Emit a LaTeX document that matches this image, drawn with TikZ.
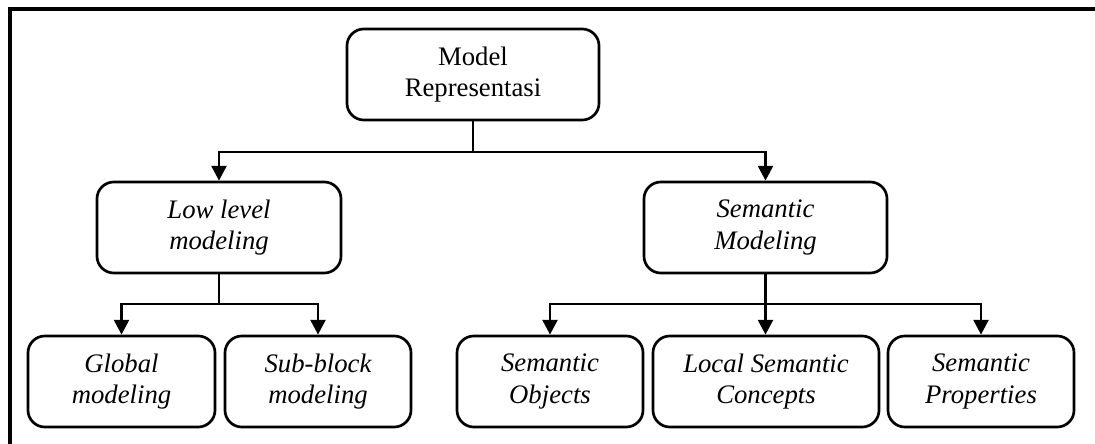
\documentclass[tikz,border=0pt]{standalone}
\usepackage{fontspec}
\setmainfont{Liberation Serif}
\usepackage{tikz}
\usetikzlibrary{arrows.meta, positioning, calc}

\begin{document}
\begin{tikzpicture}[x=0.025cm, y=-0.025cm,
    box/.style={draw, line width=1.9pt, rounded corners=12pt, align=center,
      minimum height=2.275cm, inner sep=0pt, font=\fontsize{19}{22.5}\selectfont},
    link/.style={line width=2.1pt},
    arr/.style={line width=2.1pt, -{Triangle[length=10.5pt, width=10.5pt]}}]
  \useasboundingbox (0, 0) rectangle (1095, 444);

  % Frame
  \draw[line width=2.8pt] (10, 444) -- (10, 9) -- (1095, 9);

  % Top
  \node[box, minimum width=6.3cm] (model) at (473, 74.5) {Model\\Representasi};

  % Second level
  \node[box, minimum width=6.1cm] (low) at (219, 227.5) {\itshape Low level\\\itshape modeling};
  \node[box, minimum width=6.075cm] (sem) at (765.5, 227.5) {\itshape Semantic\\\itshape Modeling};

  % Third level
  \node[box, minimum width=4.675cm] (glob) at (121.5, 381.5) {\itshape Global\\\itshape modeling};
  \node[box, minimum width=4.65cm] (sub) at (318, 381.5) {\itshape Sub-block\\\itshape modeling};
  \node[box, minimum width=4.65cm] (obj) at (550, 381.5) {\itshape Semantic\\\itshape Objects};
  \node[box, minimum width=5.65cm] (loc) at (766, 381.5) {\itshape Local Semantic\\\itshape Concepts};
  \node[box, minimum width=4.65cm] (prop) at (981, 381.5) {\itshape Semantic\\\itshape Properties};

  % Junctions
  \coordinate (j1) at (model.south |- 0, 152);
  \coordinate (j2) at (low.south |- 0, 304);
  \coordinate (j3) at (sem.south |- 0, 304);

  % Connectors
  \draw[link] (model.south) -- (j1);
  \draw[arr] (j1) -| (low.north);
  \draw[arr] (j1) -| (sem.north);

  \draw[link] (low.south) -- (j2);
  \draw[arr] (j2) -| (glob.north);
  \draw[arr] (j2) -| (sub.north);

  \draw[link] (sem.south) -- (j3);
  \draw[arr] (j3) -| (obj.north);
  \draw[arr] (j3) -- (j3 |- loc.north);
  \draw[arr] (j3) -| (prop.north);
\end{tikzpicture}
\end{document}
